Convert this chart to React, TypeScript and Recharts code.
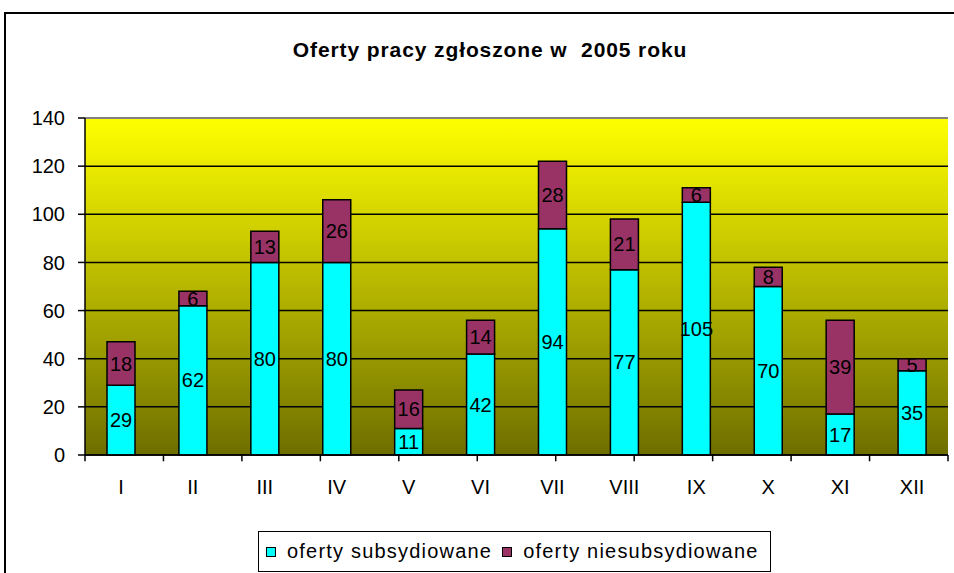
import React from "react";
import {
  BarChart,
  Bar,
  XAxis,
  YAxis,
  CartesianGrid,
  LabelList,
  ReferenceLine,
} from "recharts";

const months = ["I", "II", "III", "IV", "V", "VI", "VII", "VIII", "IX", "X", "XI", "XII"];
const subsidized = [29, 62, 80, 80, 11, 42, 94, 77, 105, 70, 17, 35];
const unsubsidized = [18, 6, 13, 26, 16, 14, 28, 21, 6, 8, 39, 5];
const yTicks = [0, 20, 40, 60, 80, 100, 120, 140];
const edgeTicks = [0, 1, 2, 3, 4, 5, 6, 7, 8, 9, 10, 11, 12];

const seriesNames = ["oferty subsydiowane", "oferty niesubsydiowane"];
const CYAN = "#00FFFF";
const MAROON = "#993366";
const FONT = "'Liberation Sans', Arial, sans-serif";

const data = months.map((m, i) => ({
  month: m,
  sub: subsidized[i],
  unsub: unsubsidized[i],
}));

function LegendSwatch({ color }: { color: string }) {
  return (
    <span
      style={{
        display: "inline-block",
        width: 8,
        height: 8,
        background: color,
        border: "1.5px solid #000",
        marginRight: 11,
        verticalAlign: "middle",
        position: "relative",
        top: -1,
      }}
    />
  );
}

export default function App() {
  return (
    <div
      style={{
        position: "fixed",
        left: 0,
        top: 0,
        width: 954,
        height: 573,
        overflow: "hidden",
        background: "#fff",
        fontFamily: FONT,
      }}
    >
      {/* outer chart frame, runs off the right and bottom edges */}
      <div
        style={{
          position: "absolute",
          left: 4,
          top: 12,
          width: 1000,
          height: 700,
          border: "2px solid #000",
        }}
      />
      <div
        style={{
          position: "absolute",
          left: 0,
          width: 980,
          top: 38,
          textAlign: "center",
          fontWeight: "bold",
          fontSize: 21,
          lineHeight: "24px",
          letterSpacing: 0.9,
          color: "#000",
        }}
      >
        Oferty pracy zgłoszone w&nbsp; 2005 roku
      </div>
      <div style={{ position: "absolute", left: 0, top: 0 }}>
        <BarChart
          width={954}
          height={573}
          data={data}
          margin={{ top: 118, right: 6, bottom: 78, left: 35 }}
          style={{ fontFamily: FONT }}
        >
          <defs>
            <linearGradient id="plotBg" x1="0" y1="0" x2="0" y2="1">
              <stop offset="0%" stopColor="#FFFF00" />
              <stop offset="100%" stopColor="#6E6E00" />
            </linearGradient>
          </defs>
          <CartesianGrid
            vertical={false}
            stroke="#000"
            strokeWidth={1.5}
            fill="url(#plotBg)"
            fillOpacity={1}
          />
          <XAxis
            dataKey="month"
            height={40}
            tickLine={false}
            tickSize={0}
            tickMargin={25}
            axisLine={{ stroke: "#000", strokeWidth: 1.5 }}
            tick={{ fill: "#000", fontSize: 20 }}
            interval={0}
          />
          <XAxis
            xAxisId="edges"
            type="number"
            domain={[0, 12]}
            ticks={edgeTicks}
            hide
          />
          <YAxis
            domain={[0, 140]}
            ticks={yTicks}
            width={50}
            tickSize={7}
            tickMargin={13}
            interval={0}
            axisLine={{ stroke: "#000", strokeWidth: 1.5 }}
            tickLine={{ stroke: "#000", strokeWidth: 1.5 }}
            tick={{ fill: "#000", fontSize: 20 }}
          />
          <ReferenceLine y={140} stroke="#808080" strokeWidth={2} />
          <ReferenceLine xAxisId="edges" x={12} stroke="#808080" strokeWidth={2} />
          {edgeTicks.map((t) => (
            <ReferenceLine
              key={t}
              xAxisId="edges"
              ifOverflow="visible"
              segment={[
                { x: t, y: 0 },
                { x: t, y: -2.6 },
              ]}
              stroke="#000"
              strokeWidth={1.5}
            />
          ))}
          <Bar
            dataKey="sub"
            name={seriesNames[0]}
            stackId="a"
            fill={CYAN}
            stroke="#000"
            strokeWidth={1.5}
            barSize={28}
            isAnimationActive={false}
          >
            <LabelList dataKey="sub" position="center" fill="#000" stroke="none" fontSize={20} />
          </Bar>
          <Bar
            dataKey="unsub"
            name={seriesNames[1]}
            stackId="a"
            fill={MAROON}
            stroke="#000"
            strokeWidth={1.5}
            barSize={28}
            isAnimationActive={false}
          >
            <LabelList dataKey="unsub" position="center" fill="#000" stroke="none" fontSize={20} />
          </Bar>
        </BarChart>
      </div>
      <div
        style={{
          position: "absolute",
          left: 258,
          top: 531,
          width: 513,
          height: 41,
          border: "1.5px solid #000",
          boxSizing: "border-box",
          background: "#fff",
          fontSize: 20,
          lineHeight: "38px",
          paddingLeft: 7,
          whiteSpace: "nowrap",
          color: "#000",
          letterSpacing: 1.2,
        }}
      >
        <LegendSwatch color={CYAN} />
        <span>{seriesNames[0]}</span>
        <span style={{ marginLeft: 10 }} />
        <LegendSwatch color={MAROON} />
        <span>{seriesNames[1]}</span>
      </div>
    </div>
  );
}
